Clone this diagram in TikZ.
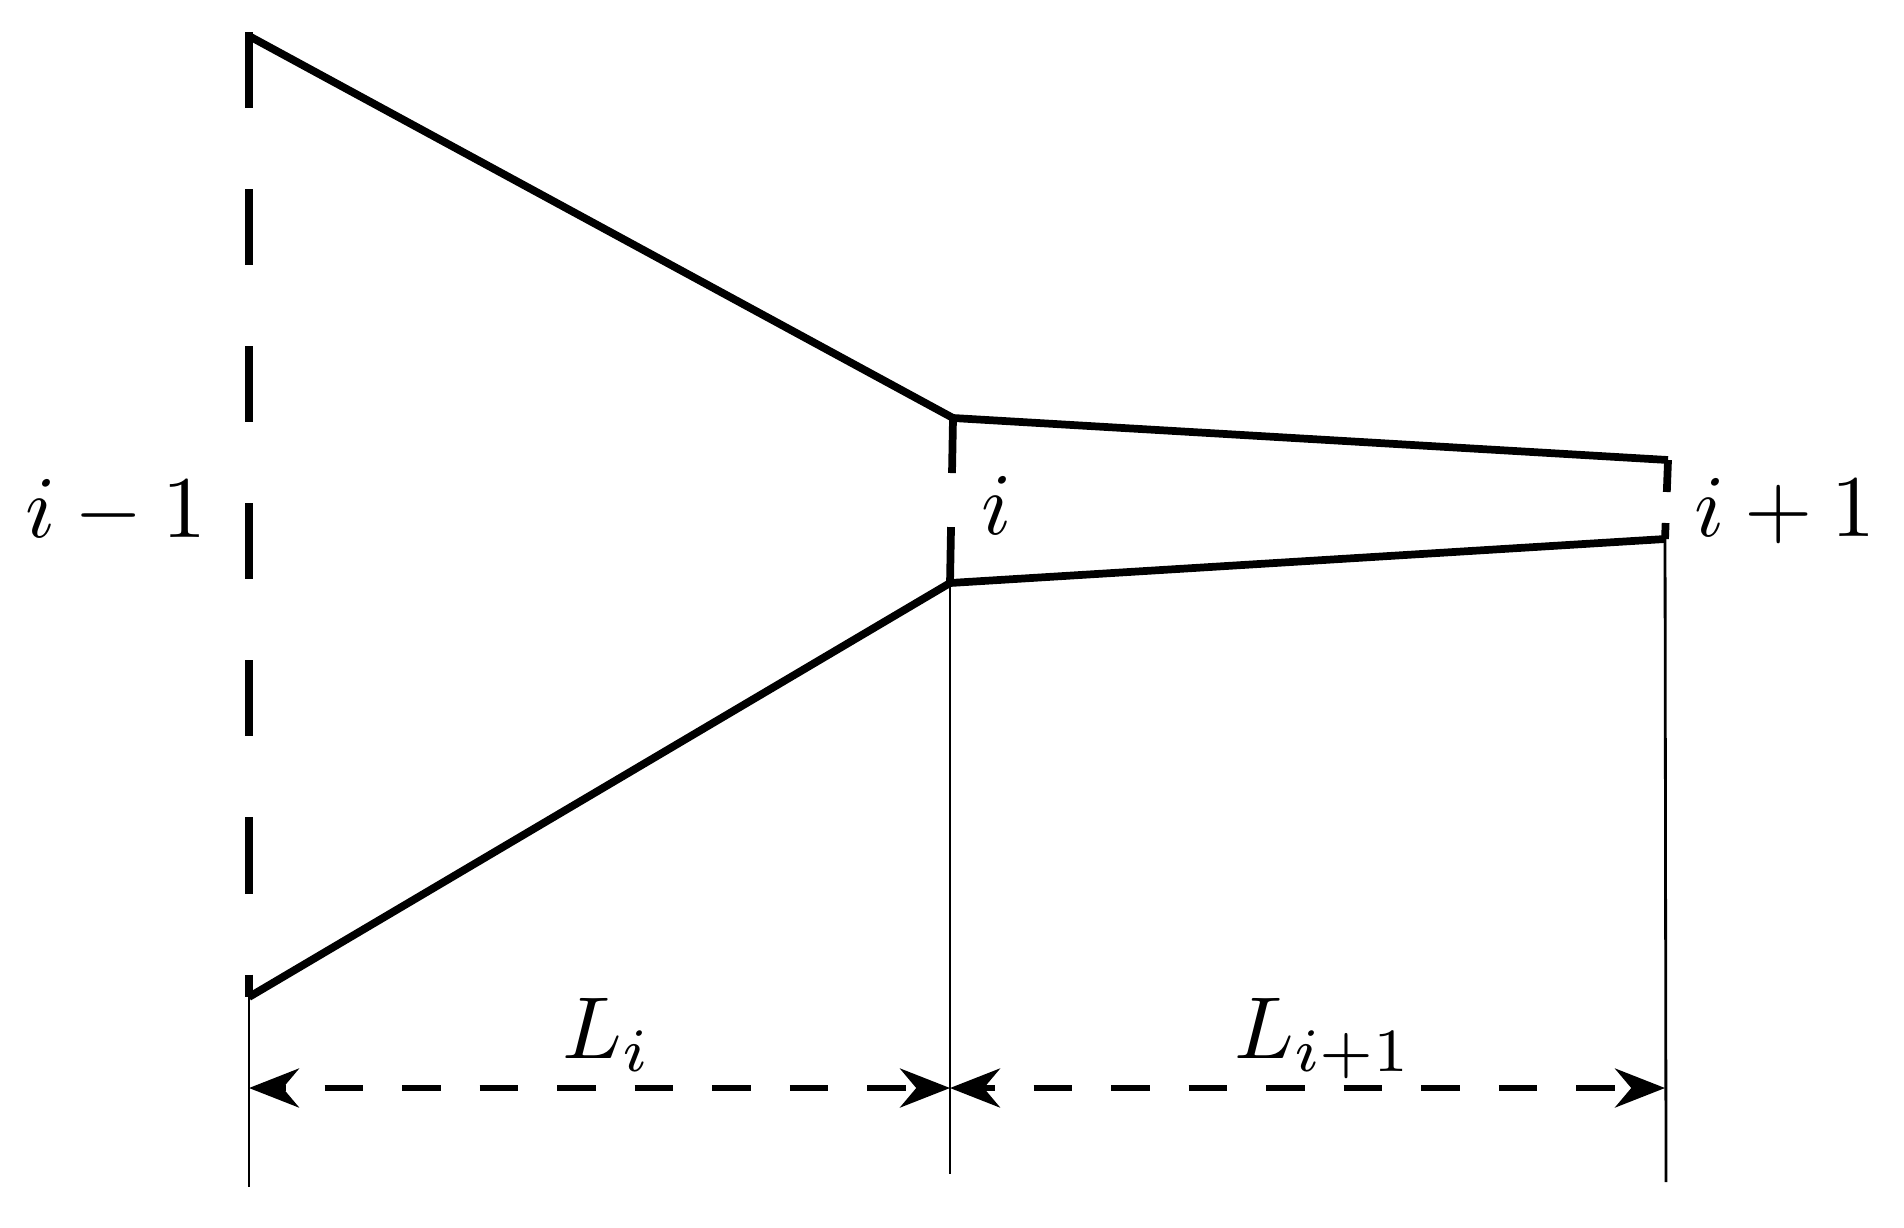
\documentclass[tikz,border=0pt]{standalone}
\usetikzlibrary{arrows.meta}
\begin{document}
\begin{tikzpicture}[x=0.01cm,y=-0.01cm,
  thick line/.style={line width=2.2pt,line cap=butt,line join=miter},
  thin line/.style={line width=0.8pt},
  dimline/.style={line width=1.6pt,
    {Stealth[length=0.5cm,width=0.39cm]}-{Stealth[length=0.5cm,width=0.39cm]}},
  lbl/.style={anchor=base,inner sep=0pt,scale=2.5}]
\useasboundingbox (0,0) rectangle (1904,1227);
% key points
\coordinate (A0) at (249,32);
\coordinate (A1) at (249,36);
\coordinate (A2) at (249,997);
\coordinate (A3) at (249,1187);
\coordinate (B1) at (953,418);
\coordinate (B2) at (950,583);
\coordinate (B3) at (950,1174);
\coordinate (C1) at (1668,460);
\coordinate (C2) at (1665,539);
\coordinate (C3) at (1666,1182);
\coordinate (DL) at (249,1088);
\coordinate (DM) at (950,1088);
\coordinate (DR) at (1665,1088);
% dashed section lines
\draw[thick line,dash pattern=on 0.76cm off 0.81cm] (A0) -- (A2);
\draw[thick line,dash pattern=on 0.55cm off 0.54cm] (B1) -- (B2);
\draw[thick line,dash pattern=on 0.32cm off 0.31cm] (C1) -- (C2);
% outline
\draw[thick line] (A1) -- (B1) -- (C1);
\draw[thick line] (A2) -- (B2) -- (C2);
% thin extension lines
\draw[thin line] (A2) -- (A3);
\draw[thin line] (B2) -- (B3);
\draw[thin line] (C2) -- (C3);
% dimension arrows
\draw[dimline,dash pattern=on 0.385cm off 0.39cm,dash phase=0.335cm] (DL) -- (DM);
\draw[dimline,dash pattern=on 0.385cm off 0.39cm,dash phase=0.255cm] (DM) -- (DR);
% labels
\node[lbl] (lim1) at (116,537) {$i-1$};
\node[lbl] (li) at (997,534) {$i$};
\node[lbl] (lip1) at (1785,536) {$i+1$};
\node[lbl] (Li) at (607,1058) {$L_i$};
\node[lbl] (Lip1) at (1324,1058) {$L_{i+1}$};
\end{tikzpicture}
\end{document}
